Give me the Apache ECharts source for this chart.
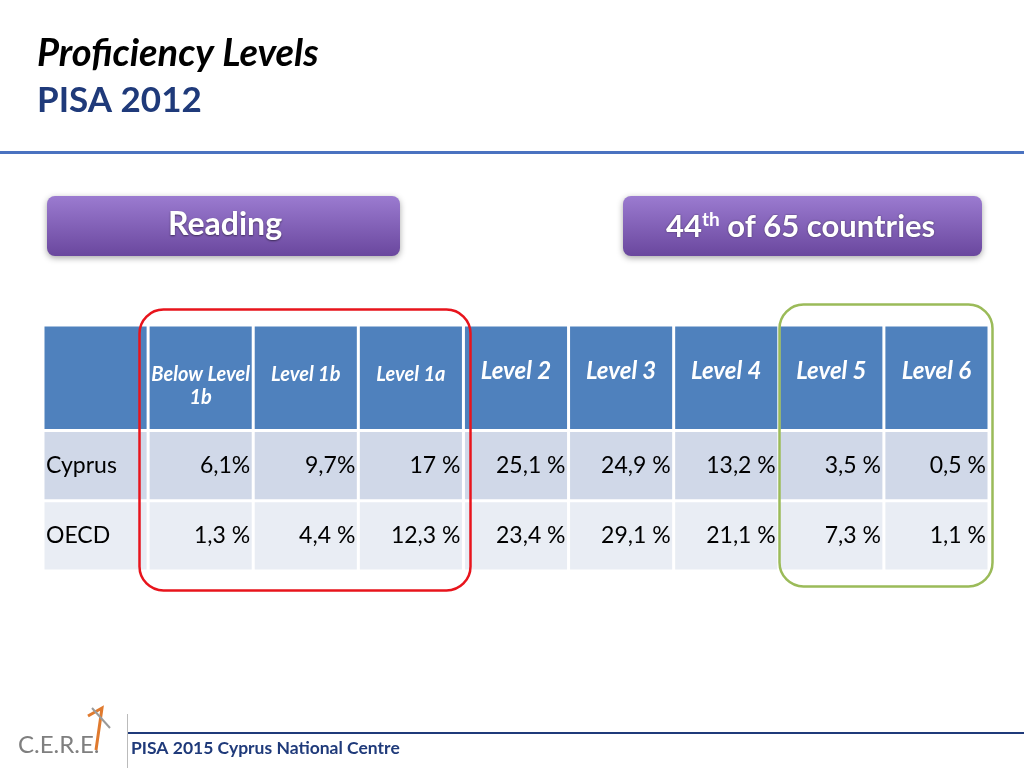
<!DOCTYPE html>
<html><head><meta charset="utf-8">
<script src="https://cdn.jsdelivr.net/npm/echarts@6/dist/echarts.min.js"></script>
<style>html,body{margin:0;padding:0;background:#fff}#c{width:1024px;height:768px}</style>
</head><body><div id="c"></div>
<script>
const columns = ['', 'Below Level\n1b', 'Level 1b', 'Level 1a', 'Level 2', 'Level 3', 'Level 4', 'Level 5', 'Level 6'];
const rowNames = ['Cyprus', 'OECD'];
const cyprus = ['6,1%', '9,7%', '17 %', '25,1 %', '24,9 %', '13,2 %', '3,5 %', '0,5 %'];
const oecd = ['1,3 %', '4,4 %', '12,3 %', '23,4 %', '29,1 %', '21,1 %', '7,3 %', '1,1 %'];
const ySlots = ['h0','h1','h2','c0','c1','o0','o1'];

const cells = [];
columns.forEach((c, i) => cells.push({value: [i, 'h0'], kind: 'head', text: c, small: i >= 1 && i <= 3}));
[cyprus, oecd].forEach((vals, r) => {
  const slot = r === 0 ? 'c0' : 'o0';
  cells.push({value: [0, slot], kind: 'name', text: rowNames[r], r});
  vals.forEach((v, i) => cells.push({value: [i + 1, slot], kind: 'val', text: v, r}));
});

const font = 'Lato, "Open Sans", sans-serif';
const chart = echarts.init(document.getElementById('c'));
chart.setOption({
  animation: false,
  grid: {left: 43, right: 35, top: 325, bottom: 197},
  xAxis: {type: 'category', data: columns.map((c,i)=>String(i)), show: false},
  yAxis: {type: 'category', data: ySlots, inverse: true, show: false},
  series: [{
    type: 'custom',
    data: cells,
    renderItem(params, api) {
      const d = cells[params.dataIndex];
      const p = api.coord([api.value(0), api.value(1)]);
      const s = api.size([1, 1]);
      const span = d.kind === 'head' ? 3 : 2;
      const x = p[0] - s[0] / 2, y = p[1] - s[1] / 2, w = s[0], h = s[1] * span;
      const fill = d.kind === 'head' ? '#4F81BD' : (d.r === 0 ? '#D0D8E8' : '#E9EDF4');
      const children = [{type: 'rect', shape: {x: x + 1.5, y: y + 1.5, width: w - 3, height: h - 3}, style: {fill}}];
      if (d.kind === 'head') {
        children.push({type: 'text', style: {text: d.text, x: x + w / 2, y: d.small ? y + 38 : y + 35, align: 'center', verticalAlign: 'top',
          fill: '#fff', font: `italic bold ${d.small ? 20 : 24}px ${font}`, lineHeight: 23}});
      } else if (d.kind === 'name') {
        children.push({type: 'text', style: {text: d.text, x: x + 3, y: y + h / 2, align: 'left', verticalAlign: 'middle',
          fill: '#000', font: `23px ${font}`}});
      } else {
        children.push({type: 'text', style: {text: d.text, x: x + w - 3, y: y + h / 2, align: 'right', verticalAlign: 'middle',
          fill: '#000', font: `23px ${font}`}});
      }
      return {type: 'group', children};
    }
  }],
  graphic: [
    {type: 'text', left: 37, top: 35, style: {text: 'Proficiency Levels', font: `italic bold 38px ${font}`, fill: '#000'}},
    {type: 'text', left: 37, top: 83, style: {text: 'PISA 2012', font: `bold 35px ${font}`, fill: '#1F3A7A'}},
    {type: 'rect', left: 0, top: 151, shape: {width: 1024, height: 3}, style: {fill: '#4A72C0'}},
    {type: 'rect', left: 47, top: 196, shape: {width: 353, height: 60, r: 8},
      style: {fill: new echarts.graphic.LinearGradient(0,0,0,1,[{offset:0,color:'#9B7BD0'},{offset:1,color:'#6A479E'}]),
        shadowBlur: 6, shadowColor: 'rgba(0,0,0,0.35)', shadowOffsetY: 2}},
    {type: 'text', left: 168, top: 209, style: {text: 'Reading', font: `bold 32px ${font}`, fill: '#fff',
      textShadowColor: 'rgba(0,0,0,0.5)', textShadowBlur: 2, textShadowOffsetY: 1}},
    {type: 'rect', left: 623, top: 196, shape: {width: 359, height: 60, r: 8},
      style: {fill: new echarts.graphic.LinearGradient(0,0,0,1,[{offset:0,color:'#9B7BD0'},{offset:1,color:'#6A479E'}]),
        shadowBlur: 6, shadowColor: 'rgba(0,0,0,0.35)', shadowOffsetY: 2}},
    {type: 'text', left: 666, top: 210, style: {rich: {
        a: {font: `bold 31px ${font}`, fill: '#fff', textShadowColor: 'rgba(0,0,0,0.5)', textShadowBlur: 2},
        s: {font: `bold 19px ${font}`, fill: '#fff', verticalAlign: 'top', padding: [0,0,14,0]}},
      text: '{a|44}{s|th}{a| of 65 countries}'}},
    {type: 'rect', left: 137, top: 307, shape: {width: 331, height: 281, r: 24}, style: {fill: 'none', stroke: '#E8141C', lineWidth: 2.5}, z: 10},
    {type: 'rect', left: 777, top: 302, shape: {width: 213, height: 282, r: 24}, style: {fill: 'none', stroke: '#9BBB59', lineWidth: 2.5}, z: 10},
    {type: 'rect', left: 128, top: 732, shape: {width: 896, height: 2}, style: {fill: '#1F3A7A'}},
    {type: 'rect', left: 127, top: 714, shape: {width: 1, height: 54}, style: {fill: '#bbb'}},
    {type: 'text', left: 131, top: 739, style: {text: 'PISA 2015 Cyprus National Centre', font: `bold 17.5px ${font}`, fill: '#1F3A7A'}},
    {type: 'text', left: 18, top: 733, style: {text: 'C.E.R.E.', font: `24px ${font}`, fill: '#7F7F7F'}},
    {type: 'polyline', shape: {points: [[88,716],[102,708],[96,750]]}, style: {stroke: '#E07A2E', lineWidth: 3, fill: 'none'}},
    {type: 'line', shape: {x1: 92, y1: 708, x2: 110, y2: 728}, style: {stroke: '#9A9A9A', lineWidth: 2}}
  ]
});
</script></body></html>
